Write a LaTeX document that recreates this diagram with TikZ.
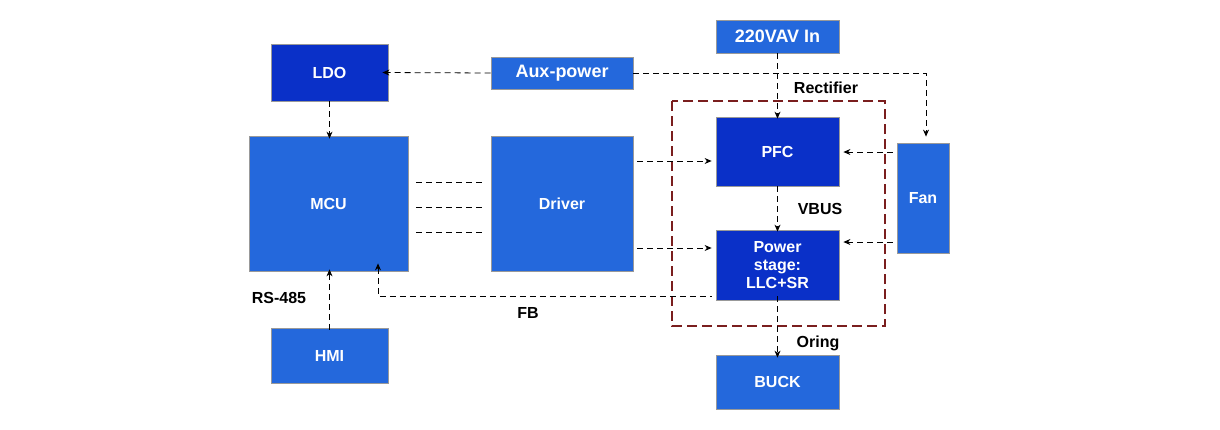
\documentclass[tikz,border=0pt]{standalone}
\usepackage{fontspec}
\setmainfont{Liberation Sans}
\usetikzlibrary{arrows.meta}
\definecolor{dkblue}{HTML}{0A30C8}
\definecolor{ltblue}{HTML}{2468DC}
\definecolor{dkred}{HTML}{7A1E1E}
\tikzset{
  blk/.style={draw=black!40, fill=ltblue, text=white, font=\bfseries\fontsize{8}{9}\selectfont, align=center, inner sep=0pt},
  dblk/.style={blk, fill=dkblue},
  link/.style={densely dashed, thin, -{Stealth[length=3.5pt,width=3pt]}},
  lbl/.style={font=\bfseries\fontsize{8}{9}\selectfont}
}
\begin{document}
\begin{tikzpicture}[x=0.5pt, y=-0.5pt]
  \useasboundingbox (0,0) rectangle (1220,429);
  % boxes
  \node[dblk, minimum width=58.5pt, minimum height=28.5pt] (ldo) at (329.5,72.5) {LDO};
  \node[blk, minimum width=71pt, minimum height=16pt, font=\bfseries\fontsize{9}{10}\selectfont] (aux) at (562,73) {Aux-power};
  \node[blk, minimum width=61.5pt, minimum height=16.5pt, font=\bfseries\fontsize{9}{10}\selectfont] (ac) at (777.5,36.5) {220VAV In};
  \node[blk, minimum width=79.5pt, minimum height=67.5pt] (mcu) at (328.5,203.5) {MCU};
  \node[blk, minimum width=71pt, minimum height=67.5pt] (drv) at (562,203.5) {Driver};
  \node[dblk, minimum width=61.5pt, minimum height=34.5pt] (pfc) at (777.5,151.5) {PFC};
  \node[dblk, minimum width=61.5pt, minimum height=35pt] (ps) at (777.5,265) {Power\\stage:\\LLC+SR};
  \node[blk, minimum width=26pt, minimum height=55pt] (fan) at (923,198) {Fan};
  \node[blk, minimum width=58.5pt, minimum height=27.5pt] (hmi) at (329.5,355.5) {HMI};
  \node[blk, minimum width=61.5pt, minimum height=27pt] (buck) at (777.5,382) {BUCK};
  % rectifier frame
  \draw[dkred, very thick, dash pattern=on 5pt off 2.5pt] (672,101) rectangle (885,326);
  % helper points
  \coordinate (fanin) at (926,73);
  \coordinate (fb) at (378,296);
  % connectors
  \draw[link] (aux.west) -- ([xshift=-3pt]ldo.east);
  \draw[link] (aux.east) -- (fanin) -- ([yshift=3pt]fan.north -| fanin);
  \draw[link] (ldo.south) -- ([yshift=-1.5pt]mcu.north -| ldo.south);
  \draw[link] (ac.south) -- ([yshift=-1pt]pfc.north);
  \draw[link] ([xshift=2pt]drv.east |- 0,161) -- ([xshift=-2pt]pfc.west |- 0,161);
  \draw[link] ([xshift=2pt]drv.east |- 0,248) -- ([xshift=-2pt]ps.west |- 0,248);
  \foreach \y in {182,207,232}
    \draw[densely dashed, thin] ([xshift=4pt]mcu.east |- 0,\y) -- ([xshift=-2.5pt]drv.west |- 0,\y);
  \draw[link] ([xshift=-2pt]fan.west |- 0,152) -- ([xshift=2pt]pfc.east |- 0,152);
  \draw[link] ([xshift=-2pt]fan.west |- 0,242) -- ([xshift=2pt]ps.east |- 0,242);
  \draw[link] (pfc.south) -- ([yshift=-1pt]ps.north);
  \draw[link, {Stealth[length=3.5pt,width=3pt]}-] ([yshift=4pt]mcu.south -| fb) -- (fb) -- ([xshift=-2pt]ps.west |- fb);
  \draw[link, {Stealth[length=3.5pt,width=3pt]}-] ([yshift=1pt]mcu.south -| ldo.south) -- ([yshift=-1.5pt]hmi.north);
  \draw[link] ([yshift=2pt]ps.south) -- ([yshift=-1.5pt]buck.north);
  % labels
  \node[lbl] (rect) at (826,88) {Rectifier};
  \node[lbl] (vbus) at (820,209) {VBUS};
  \node[lbl] (fbl) at (528,313) {FB};
  \node[lbl] (rs) at (279,298) {RS-485};
  \node[lbl] (oring) at (818,343) {Oring};
\end{tikzpicture}
\end{document}
